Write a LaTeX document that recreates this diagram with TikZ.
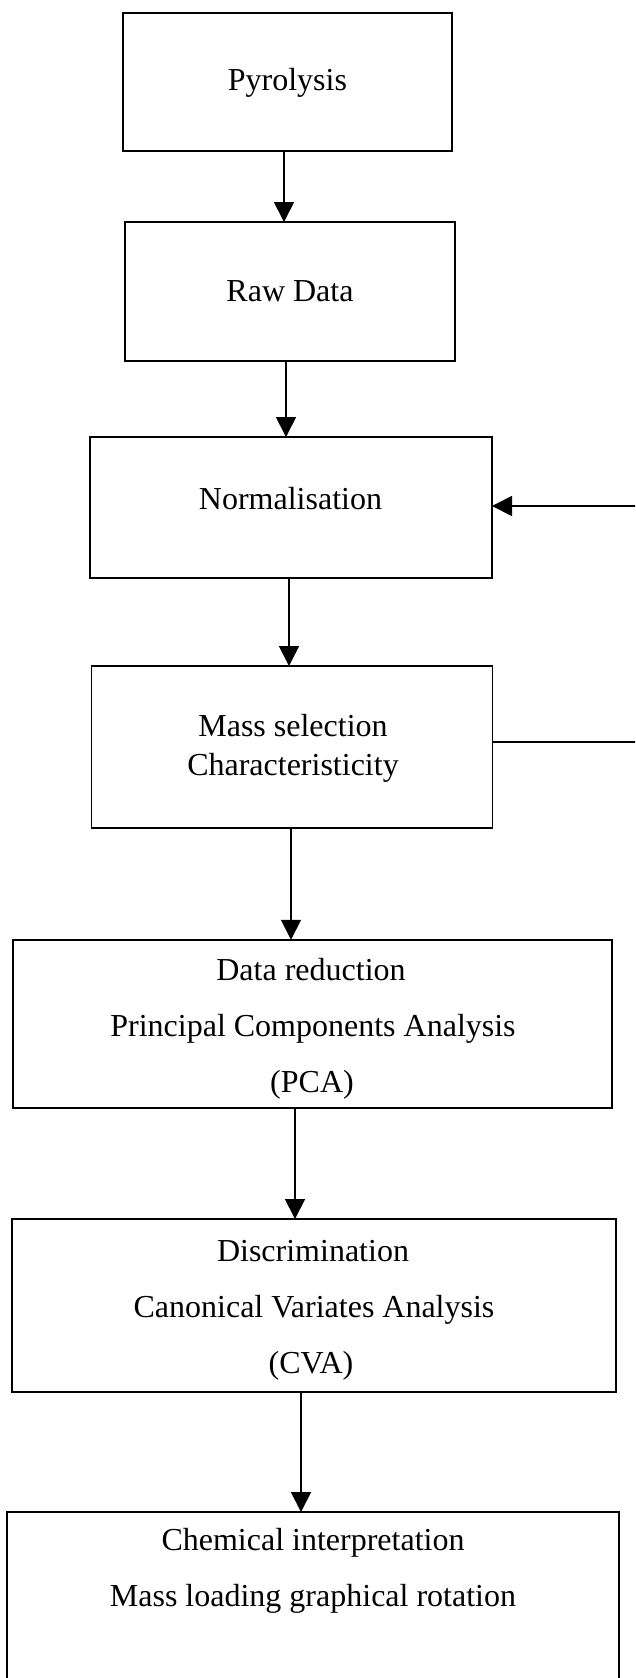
\documentclass[tikz,border=0pt]{standalone}
\usepackage{fontspec}
\setmainfont{Liberation Serif}
\usetikzlibrary{arrows.meta}
\begin{document}
\begin{tikzpicture}[x=1pt,y=-1pt,
  box/.style={draw, line width=1.8pt, rectangle, inner sep=0pt, outer sep=0pt},
  lbl/.style={font=\fontsize{32}{38}\selectfont, anchor=base, inner sep=0pt},
  arr/.style={line width=1.8pt, -{Triangle[length=20pt,width=20pt]}},
  ln/.style={line width=1.8pt}]
\useasboundingbox (0,0) rectangle (635,1678);
\clip (0,0) rectangle (635,1678);
% boxes
\node[box, minimum width=329pt, minimum height=138pt] (pyro) at (287.5,82) {};
\node[box, minimum width=330pt, minimum height=139pt] (raw) at (290,291.5) {};
\node[box, minimum width=402pt, minimum height=141pt] (norm) at (291,507.5) {};
\node[box, minimum width=401pt, minimum height=162pt] (mass) at (292,747) {};
\node[box, minimum width=599pt, minimum height=168.5pt] (pca) at (312.5,1024) {};
\node[box, minimum width=604.5pt, minimum height=173pt] (cva) at (314,1305.5) {};
\node[box, minimum width=612pt, minimum height=208pt] (chem) at (313.3,1616) {};
% texts
\node[lbl] (pyrot) at (287.4,90.7) {Pyrolysis};
\node[lbl] (rawt) at (290,301) {Raw Data};
\node[lbl] (normt) at (290.5,509) {Normalisation};
\node[lbl] (masst1) at (293,736) {Mass selection};
\node[lbl] (masst2) at (293,775) {Characteristicity};
\node[lbl] (pcat1) at (311,980) {Data reduction};
\node[lbl] (pcat2) at (313,1036) {Principal Components Analysis};
\node[lbl] (pcat3) at (312,1092) {(PCA)};
\node[lbl] (cvat1) at (313,1261) {Discrimination};
\node[lbl] (cvat2) at (314,1317) {Canonical Variates Analysis};
\node[lbl] (cvat3) at (311,1373) {(CVA)};
\node[lbl] (chemt1) at (313,1550) {Chemical interpretation};
\node[lbl] (chemt2) at (313,1606) {Mass loading graphical rotation};
% connectors
\draw[arr] (pyro.south -| 284,0) -- (raw.north -| 284,0);
\draw[arr] (raw.south -| 286,0) -- (norm.north -| 286,0);
\draw[arr] (norm.south -| 289,0) -- (mass.north -| 289,0);
\draw[arr] (mass.south -| 291,0) -- (pca.north -| 291,0);
\draw[arr] (pca.south -| 295,0) -- (cva.north -| 295,0);
\draw[arr] (cva.south -| 301,0) -- (chem.north -| 301,0);
% feedback loop (runs off the right edge)
\coordinate (fbin) at (645,506);
\coordinate (fbout) at (645,742);
\draw[ln] (mass.east |- fbout) -- (fbout);
\draw[arr] (fbin) -- (norm.east |- fbin);
\end{tikzpicture}
\end{document}
